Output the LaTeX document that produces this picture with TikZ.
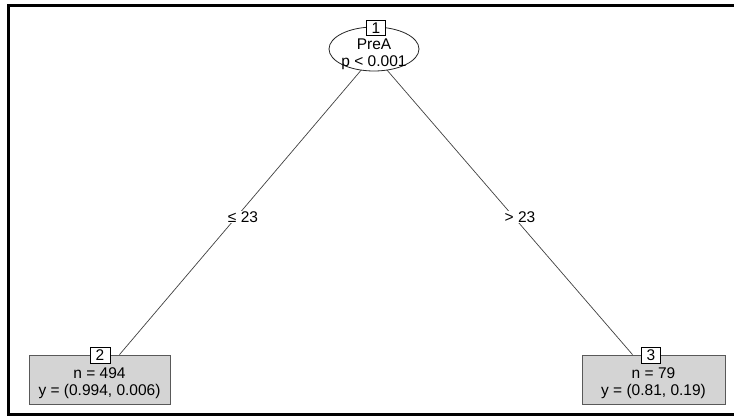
\documentclass[tikz,border=0pt]{standalone}
\usepackage{fontspec}
\setmainfont{Liberation Sans}
\usetikzlibrary{shapes.geometric,backgrounds,positioning}

\begin{document}
\begin{tikzpicture}[x=1pt,y=-1pt,
		font=\fontsize{15.5}{17}\selectfont,
		inner/.style={ellipse,draw=black!85,fill=white,line width=0.8pt,inner sep=0mm,minimum width=90pt,minimum height=44pt},
		leaf/.style={rectangle,draw=black!65,fill=black!17,line width=0.8pt,inner sep=0mm,minimum height=49pt},
		txt/.style={align=center,inner sep=0mm},
		idbox/.style={rectangle,draw=black,fill=white,line width=0.7pt,inner sep=0mm,minimum width=19pt,minimum height=15pt},
		split/.style={fill=white,inner sep=1pt},
		branch/.style={draw=black!75,line width=0.7pt}]

	\useasboundingbox (0,0) rectangle (734,417);
	\draw[line width=3pt] (734,5.5) -- (8,5.5) -- (8,414.5) -- (734,414.5);

	% inner node
	\node[inner] (root) at (374,49) {};
	\node[txt] (roottext) at (374,54) {PreA\\p < 0.001};
	\node[idbox] (id1) at (376,28) {1};

	% terminal nodes
	\node[leaf,minimum width=141pt] (left) at (99.5,379.5) {};
	\node[txt] (lefttext) at (99.5,383.5) {n = 494\\y = (0.994, 0.006)};
	\node[idbox,minimum width=20pt,minimum height=16pt] (id2) at (100,355) {2};
	\node[leaf,minimum width=143pt] (right) at (653.5,379.5) {};
	\node[txt] (righttext) at (653.5,383.5) {n = 79\\y = (0.81, 0.19)};
	\node[idbox,minimum height=16pt] (id3) at (651,355) {3};

	\begin{scope}[on background layer]
		\draw[branch] ([yshift=-6pt]root.center) -- ([xshift=20pt]left.north);
		\draw[branch] ([yshift=-6pt]root.center) -- ([xshift=-21pt]right.north);
	\end{scope}
	\node[split] (le) at (243,217) {≤ 23};
	\node[split] (gt) at (520,217) {> 23};
\end{tikzpicture}
\end{document}
